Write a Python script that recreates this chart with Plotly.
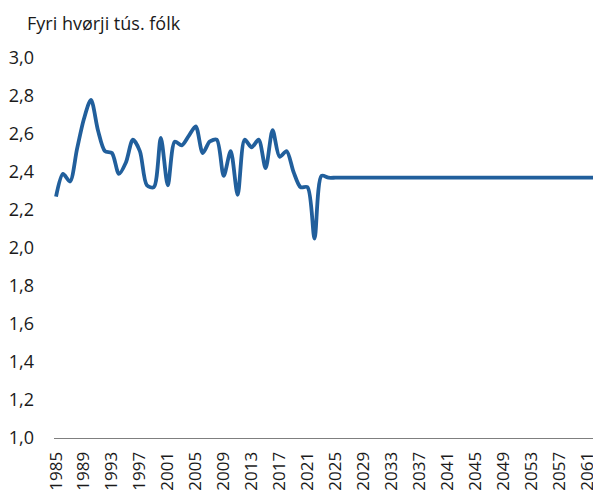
import plotly.graph_objects as go

hist_years = list(range(1985, 2025))
hist_values = [2.27, 2.39, 2.35, 2.52, 2.68, 2.78, 2.62, 2.51, 2.50, 2.39,
               2.45, 2.57, 2.51, 2.33, 2.32, 2.58, 2.33, 2.56, 2.54, 2.59,
               2.64, 2.50, 2.56, 2.57, 2.38, 2.51, 2.28, 2.57, 2.53, 2.57,
               2.42, 2.62, 2.48, 2.51, 2.40, 2.32, 2.32, 2.05, 2.38, 2.37]
proj_years = list(range(2025, 2063))
proj_values = [2.37] * len(proj_years)

years = hist_years + proj_years
values = hist_values + proj_values

tick_years = list(range(1985, 2062, 4))
y_ticks = [1.0, 1.2, 1.4, 1.6, 1.8, 2.0, 2.2, 2.4, 2.6, 2.8, 3.0]

fig = go.Figure()
fig.add_trace(go.Scatter(
    x=years, y=values, mode="lines",
    line=dict(color="#215f9c", width=3.8, shape="spline", smoothing=0.8),
    hoverinfo="skip", showlegend=False,
))

fig.update_layout(
    width=593, height=493,
    margin=dict(l=54, r=0, t=58, b=55, autoexpand=False),
    paper_bgcolor="white", plot_bgcolor="white",
    separators=", ",
    font=dict(family="Open Sans, Noto Sans, sans-serif", size=18, color="#1a1a1a"),
    xaxis=dict(
        range=[1984.71, 2061.86], automargin=False,
        tickmode="array", tickvals=tick_years,
        ticktext=[str(y) for y in tick_years],
        tickangle=-90, showgrid=False, zeroline=False,
        showline=True, linecolor="#7f7f7f", linewidth=1,
        ticks="", ticklen=0, ticklabelstandoff=6,
        ticklabeloverflow="allow",
        tickfont=dict(size=17),
    ),
    yaxis=dict(
        range=[1.0, 3.0], automargin=False,
        tickmode="array", tickvals=y_ticks, tickformat=".1f",
        showgrid=False, zeroline=False, showline=False,
        ticks="", ticklabelstandoff=19, tickfont=dict(size=18),
    ),
    annotations=[dict(
        text="Fyri hvørji tús. fólk", xref="paper", yref="paper",
        x=-29/539, y=1.0, yshift=35, xanchor="left", yanchor="middle",
        showarrow=False, font=dict(size=18, color="#1a1a1a"),
    )],
)

fig.write_html("out.html", config={"displayModeBar": False},
               post_script="document.body.style.margin='0px';")
